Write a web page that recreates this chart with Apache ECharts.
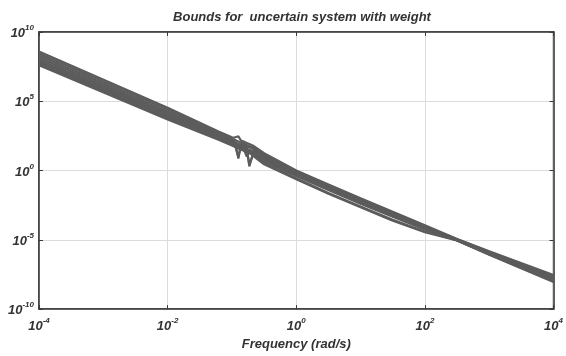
<!DOCTYPE html>
<html>
<head>
<meta charset="utf-8">
<script src="https://cdn.jsdelivr.net/npm/echarts@6/dist/echarts.min.js"></script>
<style>
  html, body { margin: 0; padding: 0; background: #fff; }
  #eCharts { width: 566px; height: 356px; }
</style>
</head>
<body>
<div id="eCharts"></div>
<script>
// frequency points as log10(rad/s)
var freqExp = [-4, -2, -1.2, -1.0, -0.96, -0.9, -0.86, -0.81, -0.77, -0.73, -0.66, -0.5, 0, 0.5, 1, 1.5, 2, 2.5, 3, 4];

var line1 = [8.6, 4.53, 2.8, 2.4, 2.38, 2.47, 2.17, 2.07, 1.99, 1.91, 1.77, 1.25, 0.0, -1.0, -2.0, -2.98, -3.95, -4.95, -5.83, -7.55];
var line2 = [8.45, 4.4, 2.7, 2.3, 2.22, 2.1, 2.02, 1.92, 1.84, 1.76, 1.62, 1.15, -0.05, -1.05, -2.05, -3.02, -4.0, -4.96, -5.86, -7.62];
var line3 = [8.3, 4.27, 2.62, 2.22, 2.14, 0.86, 1.94, 1.84, 1.76, 1.68, 1.54, 1.07, -0.12, -1.12, -2.12, -3.08, -4.04, -4.98, -5.9, -7.7];
var line4 = [8.15, 4.14, 2.53, 2.13, 2.05, 1.93, 1.85, 1.75, 1.67, 0.3, 1.45, 0.98, -0.18, -1.18, -2.18, -3.13, -4.08, -5.0, -5.94, -7.78];
var line5 = [8.0, 4.02, 2.44, 2.04, 1.96, 1.0, 1.76, 1.66, 1.58, 1.5, 1.36, 0.89, -0.24, -1.24, -2.24, -3.18, -4.13, -5.01, -5.98, -7.85];
var line6 = [7.85, 3.89, 2.35, 1.95, 1.87, 1.75, 1.67, 1.57, 1.49, 0.45, 1.27, 0.8, -0.3, -1.3, -2.3, -3.24, -4.18, -5.03, -6.01, -7.93];
var line7 = [7.7, 3.76, 2.26, 1.86, 1.78, 1.66, 1.58, 1.48, 1.0, 1.32, 1.18, 0.72, -0.36, -1.36, -2.36, -3.29, -4.22, -5.04, -6.05, -8.0];
var line8 = [7.6, 3.68, 2.2, 1.8, 1.72, 1.6, 1.52, 1.42, 1.34, 1.26, 1.12, 0.66, -0.4, -1.4, -2.4, -3.33, -4.25, -5.05, -6.07, -8.05];
var line9 = [7.75, 3.8, 2.3, 1.9, 1.82, 1.7, 1.62, 1.52, 1.44, 1.3, 1.02, 0.45, -0.62, -1.68, -2.65, -3.62, -4.45, -5.05, -6.02, -7.9];
var line10 = [7.9, 3.9, 2.4, 2.0, 1.92, 1.8, 1.72, 1.62, 1.54, 1.4, 1.12, 0.52, -0.56, -1.62, -2.59, -3.55, -4.4, -5.02, -6.0, -7.88];
var magLines = [line1, line2, line3, line4, line5, line6, line7, line8, line9, line10];

var myChart = echarts.init(document.getElementById('eCharts'));

var fontFam = '"Liberation Sans", Arial, sans-serif';
var powRich = {
    b: {fontSize: 13, fontWeight: 'bold', fontStyle: 'italic', color: '#333', fontFamily: fontFam, lineHeight: 16, verticalAlign: 'bottom'},
    s: {fontSize: 8, fontWeight: 'bold', fontStyle: 'italic', color: '#333', fontFamily: fontFam, lineHeight: 8, verticalAlign: 'top'}
};
function powLabel(v) {
    return '{b|10}{s|' + v + '}';
}

var series = [];
for (var i = 0; i < magLines.length; i++) {
    var pts = [];
    for (var j = 0; j < freqExp.length; j++) {
        pts.push([freqExp[j], magLines[i][j]]);
    }
    series.push({
        type: 'line',
        data: pts,
        showSymbol: false,
        silent: true,
        xAxisIndex: 0,
        yAxisIndex: 0,
        lineStyle: {color: '#5c5c5c', width: 2.2}
    });
}

var option = {
    animation: false,
    backgroundColor: '#fff',
    title: {
        text: 'Bounds for  uncertain system with weight',
        left: 297,
        textAlign: 'center',
        top: 6,
        textStyle: {fontSize: 13, fontWeight: 'bold', fontStyle: 'italic', color: '#333', fontFamily: fontFam}
    },
    grid: {
        left: 39,
        right: 10,
        top: 32,
        bottom: 44,
        show: true,
        borderColor: '#3a3a3a',
        borderWidth: 1.5
    },
    xAxis: [
        {
            type: 'value',
            min: -4,
            max: 4,
            interval: 2,
            name: 'Frequency (rad/s)',
            nameLocation: 'middle',
            nameGap: 28,
            nameTextStyle: {fontSize: 13, fontWeight: 'bold', fontStyle: 'italic', color: '#333', fontFamily: fontFam},
            axisLine: {onZero: false, lineStyle: {color: '#3a3a3a', width: 1.5}},
            axisTick: {inside: true, length: 4, lineStyle: {color: '#3a3a3a'}},
            axisLabel: {margin: 8, formatter: powLabel, rich: powRich},
            splitLine: {show: true, lineStyle: {color: '#dcdcdc', width: 1}}
        },
        {
            type: 'value',
            position: 'top',
            min: -4,
            max: 4,
            interval: 2,
            axisLine: {onZero: false, lineStyle: {color: '#3a3a3a', width: 1.5}},
            axisTick: {inside: true, length: 4, lineStyle: {color: '#3a3a3a'}},
            axisLabel: {show: false},
            splitLine: {show: false}
        }
    ],
    yAxis: [
        {
            type: 'value',
            min: -10,
            max: 10,
            interval: 5,
            axisLine: {show: true, onZero: false, lineStyle: {color: '#3a3a3a', width: 1.5}},
            axisTick: {show: true, inside: true, length: 4, lineStyle: {color: '#3a3a3a'}},
            axisLabel: {margin: 5, formatter: powLabel, rich: powRich},
            splitLine: {show: true, lineStyle: {color: '#dcdcdc', width: 1}}
        },
        {
            type: 'value',
            position: 'right',
            min: -10,
            max: 10,
            interval: 5,
            axisLine: {show: true, onZero: false, lineStyle: {color: '#3a3a3a', width: 1.5}},
            axisTick: {show: true, inside: true, length: 4, lineStyle: {color: '#3a3a3a'}},
            axisLabel: {show: false},
            splitLine: {show: false}
        }
    ],
    series: series
};
myChart.setOption(option);
</script>
</body>
</html>
